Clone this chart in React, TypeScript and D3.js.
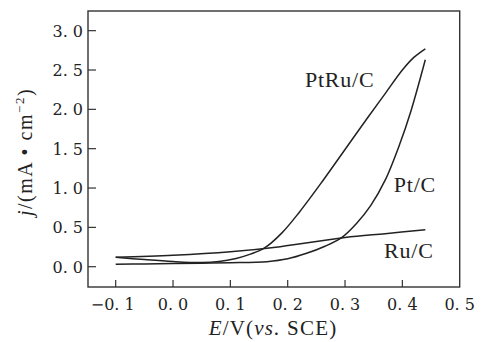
import React, { useRef, useEffect } from "react";
import * as d3 from "d3";

// potential (V vs SCE) / current density (mA cm-2)
const ptRuX = [-0.1, -0.05, 0.0, 0.05, 0.08, 0.11, 0.135, 0.159, 0.19, 0.22, 0.26, 0.3, 0.34, 0.37, 0.4, 0.42, 0.44];
const ptRuY = [0.12, 0.09, 0.065, 0.052, 0.065, 0.105, 0.16, 0.235, 0.43, 0.69, 1.08, 1.49, 1.9, 2.2, 2.5, 2.66, 2.77];

const ptX = [-0.1, -0.05, 0.0, 0.05, 0.1, 0.164, 0.2, 0.233, 0.265, 0.294, 0.32, 0.345, 0.37, 0.395, 0.415, 0.44];
const ptY = [0.03, 0.035, 0.04, 0.045, 0.05, 0.064, 0.1, 0.17, 0.26, 0.37, 0.55, 0.78, 1.1, 1.55, 1.98, 2.63];

const ruX = [-0.1, 0.0, 0.1, 0.187, 0.3, 0.37, 0.44];
const ruY = [0.12, 0.145, 0.19, 0.255, 0.37, 0.42, 0.47];

const xTicks = [-0.1, 0.0, 0.1, 0.2, 0.3, 0.4, 0.5];
const yTicks = [0.0, 0.5, 1.0, 1.5, 2.0, 2.5, 3.0];

const labels = [
  { text: "PtRu/C", x: 0.23, y: 2.284 },
  { text: "Pt/C", x: 0.385, y: 0.95 },
  { text: "Ru/C", x: 0.368, y: 0.11 },
];

const fmt = (v: number) => {
  const s = v.toFixed(1).replace("-", "\u2212");
  return s.replace(".", ". ");
};

const W = 481;
const H = 342;

const App = () => {
  const svgRef = useRef<SVGSVGElement | null>(null);

  useEffect(() => {
    const svg = d3.select(svgRef.current);
    svg.selectAll("*").remove();

    const x = d3.scaleLinear().domain([-0.1483, 0.5]).range([88, 459.7]);
    const y = d3.scaleLinear().domain([-0.258, 3.25]).range([287, 11]);

    const tickFont = "'DejaVu Serif', serif";
    const textFont = "'Times New Roman', 'Liberation Serif', serif";
    const ink = "#222";

    const line = d3
      .line<[number, number]>()
      .x((d) => x(d[0]))
      .y((d) => y(d[1]))
      .curve(d3.curveCatmullRom.alpha(0.5));

    const series = [
      ptRuX.map((v, i) => [v, ptRuY[i]] as [number, number]),
      ptX.map((v, i) => [v, ptY[i]] as [number, number]),
      ruX.map((v, i) => [v, ruY[i]] as [number, number]),
    ];

    svg
      .selectAll("path.curve")
      .data(series)
      .enter()
      .append("path")
      .attr("class", "curve")
      .attr("d", (d) => line(d))
      .attr("fill", "none")
      .attr("stroke", ink)
      .attr("stroke-width", 1.5);

    // frame
    svg
      .append("rect")
      .attr("x", x.range()[0])
      .attr("y", y.range()[1])
      .attr("width", x.range()[1] - x.range()[0])
      .attr("height", y.range()[0] - y.range()[1])
      .attr("fill", "none")
      .attr("stroke", "#333")
      .attr("stroke-width", 1.4);

    // x ticks, pointing inward
    svg
      .selectAll("line.xt")
      .data(xTicks.slice(0, -1))
      .enter()
      .append("line")
      .attr("x1", (d) => x(d))
      .attr("x2", (d) => x(d))
      .attr("y1", 287)
      .attr("y2", 280)
      .attr("stroke", "#333")
      .attr("stroke-width", 1.2);

    svg
      .selectAll("text.xl")
      .data(xTicks)
      .enter()
      .append("text")
      .attr("x", (d) => x(d) - (d < 0 ? 3 : 0))
      .attr("y", 310)
      .attr("text-anchor", "middle")
      .attr("font-family", tickFont)
      .attr("font-size", 16)
      .attr("fill", ink)
      .text((d) => fmt(d));

    // y ticks
    svg
      .selectAll("line.yt")
      .data(yTicks)
      .enter()
      .append("line")
      .attr("x1", 88)
      .attr("x2", 96)
      .attr("y1", (d) => y(d))
      .attr("y2", (d) => y(d))
      .attr("stroke", "#333")
      .attr("stroke-width", 1.2);

    svg
      .selectAll("text.yl")
      .data(yTicks)
      .enter()
      .append("text")
      .attr("x", 83)
      .attr("y", (d) => y(d) + 6)
      .attr("text-anchor", "end")
      .attr("font-family", tickFont)
      .attr("font-size", 16)
      .attr("fill", ink)
      .text((d) => fmt(d));

    // curve labels
    svg
      .selectAll("text.lab")
      .data(labels)
      .enter()
      .append("text")
      .attr("x", (d) => x(d.x))
      .attr("y", (d) => y(d.y))
      .attr("font-family", textFont)
      .attr("font-size", 22)
      .attr("letter-spacing", 0.8)
      .attr("fill", ink)
      .text((d) => d.text);

    // x title
    const xt = svg
      .append("text")
      .attr("x", 273)
      .attr("y", 335)
      .attr("text-anchor", "middle")
      .attr("font-family", textFont)
      .attr("font-size", 21)
      .attr("letter-spacing", 1.2)
      .attr("fill", ink);
    xt.append("tspan").attr("font-style", "italic").text("E");
    xt.append("tspan").text("/V(");
    xt.append("tspan").attr("font-style", "italic").text("vs.");
    xt.append("tspan").text(" SCE)");

    // y title
    const yt = svg
      .append("text")
      .attr("transform", "translate(32,152) rotate(-90)")
      .attr("text-anchor", "middle")
      .attr("font-family", textFont)
      .attr("font-size", 20)
      .attr("letter-spacing", 1.5)
      .attr("fill", ink);
    yt.append("tspan").attr("font-style", "italic").text("j");
    yt.append("tspan").text("/(mA \u2022 cm");
    yt.append("tspan").attr("dy", -8).attr("font-size", 13).text("\u22122");
    yt.append("tspan").attr("dy", 8).text(")");
  }, []);

  return (
    <div style={{ position: "absolute", left: 0, top: 0 }}>
      <svg ref={svgRef} width={W} height={H} style={{ display: "block", background: "#fff" }} />
    </div>
  );
};

export default App;
